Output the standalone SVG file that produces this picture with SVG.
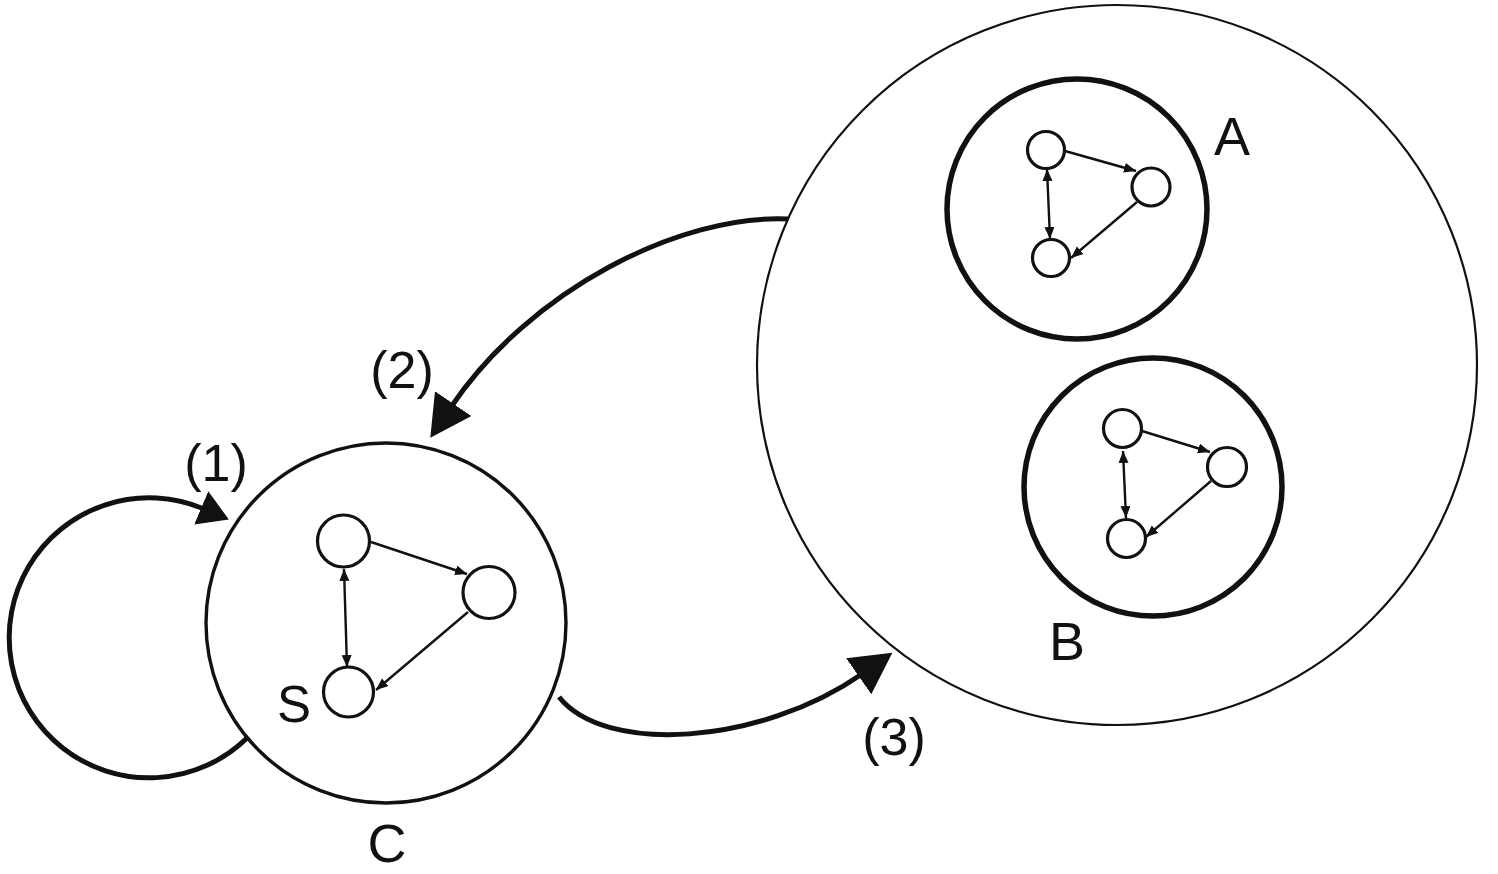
<svg xmlns="http://www.w3.org/2000/svg" width="1498" height="874" viewBox="0 0 1498 874">
<style>
.bg{fill:#fff}
.ring{fill:none;stroke:#111}
.big{stroke-width:2.2}
.cl{stroke-width:3.4}
.sub{stroke-width:5.5}
.node{fill:none;stroke:#111;stroke-width:3.2}
.edge{fill:none;stroke:#111;stroke-width:2.4}
.conn{fill:none;stroke:#111;stroke-width:5}
.lbl{font-family:"Liberation Sans",Arial,sans-serif;fill:#111;text-anchor:middle}
</style>
<defs>
<marker id="head" markerUnits="userSpaceOnUse" markerWidth="50" markerHeight="50" refX="4" refY="22" orient="auto" viewBox="0 0 50 50">
<path d="M0,0 L41,22 L0,44 z" fill="#111"/>
</marker>
<marker id="headS" markerUnits="userSpaceOnUse" markerWidth="40" markerHeight="40" refX="3" refY="18" orient="auto" viewBox="0 0 40 40">
<path d="M0,0 L30,18 L0,36 z" fill="#111"/>
</marker>
<marker id="tip" markerUnits="userSpaceOnUse" markerWidth="14" markerHeight="12" refX="12" refY="5" orient="auto-start-reverse" viewBox="0 0 14 12">
<path d="M0,0 L12,5 L0,10 z" fill="#111"/>
</marker>
</defs>
<rect class="bg" x="0" y="0" width="1498" height="874"/>

<g id="connectors">
<path class="conn" d="M247,738 A140,140 0 1 1 204,509" marker-end="url(#headS)"/>
<path class="conn" d="M788,219 C680,214 530,290 451,407" marker-end="url(#head)"/>
<path class="conn" d="M559,697 C605,755 760,745 862,674" marker-end="url(#head)"/>
</g>

<g id="node-outer">
<circle class="ring big" cx="1117" cy="365" r="360"/>
</g>

<g id="node-A">
<circle class="ring sub" cx="1077" cy="209" r="130"/>
<circle class="node" cx="1046" cy="150" r="18.5"/>
<circle class="node" cx="1151" cy="187" r="19"/>
<circle class="node" cx="1051" cy="258" r="18.5"/>
<line class="edge" x1="1065" y1="151" x2="1136" y2="171" marker-end="url(#tip)"/>
<line class="edge" x1="1137" y1="202" x2="1071" y2="258" marker-end="url(#tip)"/>
<line class="edge" x1="1047" y1="169" x2="1050" y2="239" marker-start="url(#tip)" marker-end="url(#tip)"/>
<text class="lbl" x="1232" y="155" font-size="54">A</text>
</g>

<g id="node-B">
<circle class="ring sub" cx="1153" cy="487" r="129"/>
<circle class="node" cx="1122.5" cy="428.5" r="19"/>
<circle class="node" cx="1227" cy="467" r="19.5"/>
<circle class="node" cx="1126.5" cy="538.5" r="19"/>
<line class="edge" x1="1142" y1="431" x2="1210" y2="452" marker-end="url(#tip)"/>
<line class="edge" x1="1211" y1="481" x2="1146" y2="537" marker-end="url(#tip)"/>
<line class="edge" x1="1123" y1="451" x2="1126" y2="518" marker-start="url(#tip)" marker-end="url(#tip)"/>
<text class="lbl" x="1067" y="660" font-size="54">B</text>
</g>

<g id="node-C">
<circle class="ring cl" cx="386" cy="623" r="180"/>
<circle class="node" cx="343.5" cy="541" r="26"/>
<circle class="node" cx="489" cy="592.5" r="26"/>
<circle class="node" cx="348.5" cy="692" r="25"/>
<line class="edge" x1="371" y1="542" x2="467" y2="574" marker-end="url(#tip)"/>
<line class="edge" x1="468" y1="612" x2="376" y2="690" marker-end="url(#tip)"/>
<line class="edge" x1="344" y1="569" x2="347" y2="667" marker-start="url(#tip)" marker-end="url(#tip)"/>
<text class="lbl" x="294" y="722" font-size="51">S</text>
<text class="lbl" x="387" y="862" font-size="54">C</text>
</g>

<g id="labels">
<text class="lbl" x="216" y="481" font-size="52">(1)</text>
<text class="lbl" x="402" y="388" font-size="52">(2)</text>
<text class="lbl" x="894" y="755" font-size="52">(3)</text>
</g>
</svg>
